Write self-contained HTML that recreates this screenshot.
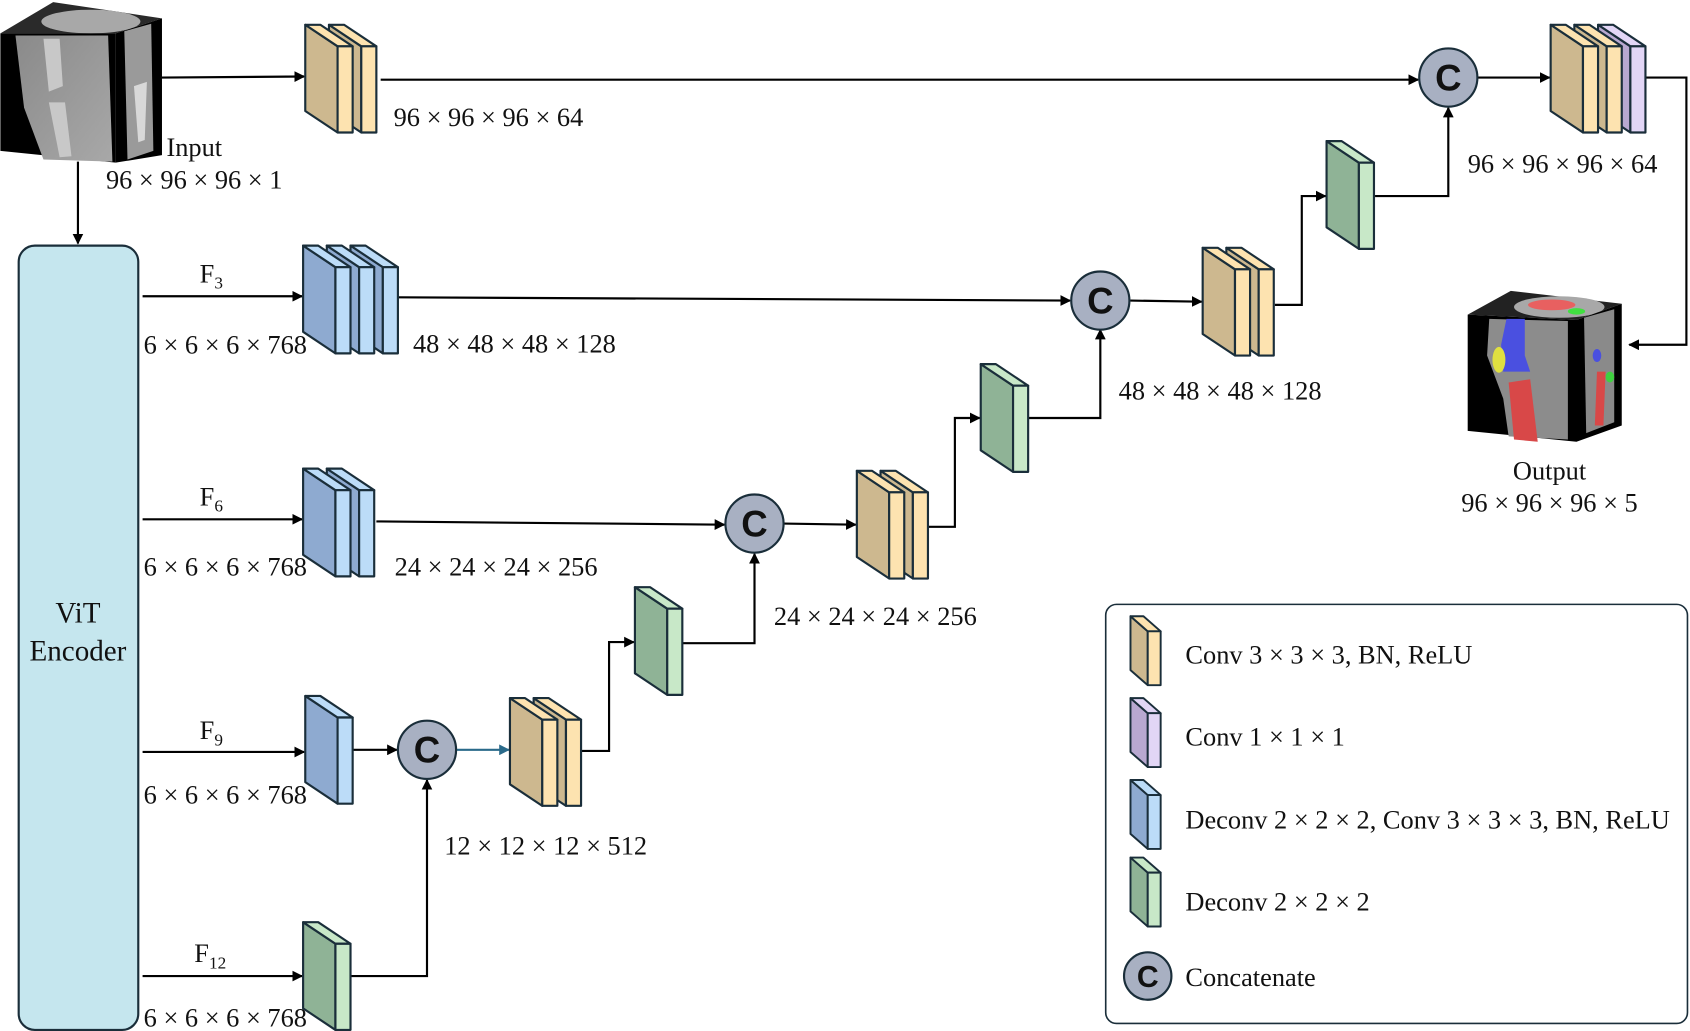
<!DOCTYPE html>
<html><head><meta charset="utf-8"><style>
html,body{margin:0;padding:0;background:#fff;}
svg{display:block;}
text{font-family:"Liberation Serif","DejaVu Serif",serif;fill:#111;}
</style></head><body>
<svg width="1690" height="1031" viewBox="0 0 1568 957" xmlns="http://www.w3.org/2000/svg">
<defs>
<marker id="ar" markerWidth="10" markerHeight="10" refX="9" refY="5" orient="auto" markerUnits="userSpaceOnUse">
<path d="M0,0 L10,5 L0,10 z" fill="#000"/></marker>
<marker id="arb" markerWidth="10" markerHeight="10" refX="9" refY="5" orient="auto" markerUnits="userSpaceOnUse">
<path d="M0,0 L10,5 L0,10 z" fill="#2a6a8a"/></marker>
<linearGradient id="ct" x1="0" y1="0" x2="1" y2="1"><stop offset="0" stop-color="#8a8a8a"/><stop offset="1" stop-color="#a8a8a8"/></linearGradient>
<g id="T" stroke="#1a2e3a" stroke-width="2" stroke-linejoin="round"><polygon points="0,0 30,20 30,100 0,80" fill="#cdb88f"/><polygon points="0,0 14,0 44,20 30,20" fill="#fde3b0"/><rect x="30" y="20" width="14" height="80" fill="#fde3b0"/></g>
<g id="B" stroke="#1a2e3a" stroke-width="2" stroke-linejoin="round"><polygon points="0,0 30,20 30,100 0,80" fill="#8eaad0"/><polygon points="0,0 14,0 44,20 30,20" fill="#bcdcf8"/><rect x="30" y="20" width="14" height="80" fill="#bcdcf8"/></g>
<g id="G" stroke="#1a2e3a" stroke-width="2" stroke-linejoin="round"><polygon points="0,0 30,20 30,100 0,80" fill="#8fb396"/><polygon points="0,0 14,0 44,20 30,20" fill="#c8e8c8"/><rect x="30" y="20" width="14" height="80" fill="#c8e8c8"/></g>
<g id="P" stroke="#1a2e3a" stroke-width="2" stroke-linejoin="round"><polygon points="0,0 30,20 30,100 0,80" fill="#b8a8d0"/><polygon points="0,0 14,0 44,20 30,20" fill="#e2d6f6"/><rect x="30" y="20" width="14" height="80" fill="#e2d6f6"/></g>
<g id="lT" stroke="#1a2e3a" stroke-width="1.8" stroke-linejoin="round"><polygon points="0,0 16,14 16,64 0,50" fill="#cdb88f"/><polygon points="0,0 12,0 28,14 16,14" fill="#fde3b0"/><rect x="16" y="14" width="12" height="50" fill="#fde3b0"/></g>
<g id="lP" stroke="#1a2e3a" stroke-width="1.8" stroke-linejoin="round"><polygon points="0,0 16,14 16,64 0,50" fill="#b8a8d0"/><polygon points="0,0 12,0 28,14 16,14" fill="#e2d6f6"/><rect x="16" y="14" width="12" height="50" fill="#e2d6f6"/></g>
<g id="lB" stroke="#1a2e3a" stroke-width="1.8" stroke-linejoin="round"><polygon points="0,0 16,14 16,64 0,50" fill="#8eaad0"/><polygon points="0,0 12,0 28,14 16,14" fill="#bcdcf8"/><rect x="16" y="14" width="12" height="50" fill="#bcdcf8"/></g>
<g id="lG" stroke="#1a2e3a" stroke-width="1.8" stroke-linejoin="round"><polygon points="0,0 16,14 16,64 0,50" fill="#8fb396"/><polygon points="0,0 12,0 28,14 16,14" fill="#c8e8c8"/><rect x="16" y="14" width="12" height="50" fill="#c8e8c8"/></g>
</defs>

<!-- Input cube -->
<polygon points="0,31 49,2 150,17 107,31" fill="#2a2a2a"/>
<ellipse cx="84" cy="20" rx="46" ry="11" fill="#a8a8a8"/>
<polygon points="0,31 107,31 107,151 0,140" fill="#000"/>
<polygon points="14,33 100,33 104,150 40,148 22,100" fill="url(#ct)"/>
<path d="M40,36 L55,36 L58,80 L45,85 Z M45,95 L60,95 L66,145 L55,146 Z" fill="#c8c8c8"/>
<polygon points="107,31 150,17 150,144 107,151" fill="#000"/>
<polygon points="115,29 140,22 142,140 118,148" fill="#9a9a9a"/>
<path d="M124,80 L136,76 L134,130 L128,132 Z" fill="#d8d8d8"/>

<!-- Output cube -->
<polygon points="1362,292 1402,270 1505,282 1463,297" fill="#222"/>
<ellipse cx="1447" cy="285" rx="42" ry="10" fill="#a8a8a8"/>
<ellipse cx="1440" cy="283" rx="22" ry="5" fill="#e86060"/>
<ellipse cx="1463" cy="289" rx="8" ry="3" fill="#40e040"/>
<polygon points="1362,292 1463,297 1463,410 1362,400" fill="#000"/>
<polygon points="1382,296 1455,298 1455,408 1400,405 1395,370 1380,330" fill="#8c8c8c"/>
<path d="M1398,296 L1415,296 L1415,330 L1420,345 L1395,345 L1393,320 Z" fill="#4a50e0"/>
<ellipse cx="1391" cy="334" rx="6" ry="12" fill="#e0e040"/>
<path d="M1400,355 L1420,352 L1427,410 L1405,408 Z" fill="#d84848"/>
<polygon points="1463,297 1505,282 1505,395 1463,410" fill="#000"/>
<polygon points="1470,295 1498,287 1498,392 1472,402" fill="#8a8a8a"/>
<ellipse cx="1482" cy="330" rx="4" ry="6" fill="#4a50e0"/>
<ellipse cx="1494" cy="350" rx="4" ry="5" fill="#40d040"/>
<path d="M1482,345 L1490,345 L1488,395 L1480,395 Z" fill="#d84848"/>

<!-- ViT encoder -->
<rect x="17" y="228" width="111" height="728" rx="15" fill="#c5e6ee" stroke="#1a2e3a" stroke-width="2"/>
<text x="72" y="578" font-size="27" text-anchor="middle">ViT</text>
<text x="72" y="613" font-size="27" text-anchor="middle">Encoder</text>

<!-- Connectors -->
<g stroke="#000" stroke-width="2" fill="none">
<line x1="150" y1="72" x2="282" y2="71" marker-end="url(#ar)"/>
<line x1="353" y1="74" x2="1316" y2="74" marker-end="url(#ar)"/>
<line x1="1371" y1="72" x2="1438" y2="72" marker-end="url(#ar)"/>
<polyline points="1525,72 1565,72 1565,320 1512,320" marker-end="url(#ar)"/>
<line x1="72" y1="150" x2="72" y2="226" marker-end="url(#ar)"/>
<line x1="132" y1="275" x2="280" y2="275" marker-end="url(#ar)"/>
<line x1="132" y1="482" x2="280" y2="482" marker-end="url(#ar)"/>
<line x1="132" y1="698" x2="282" y2="698" marker-end="url(#ar)"/>
<line x1="132" y1="906" x2="280" y2="906" marker-end="url(#ar)"/>
<line x1="369" y1="276" x2="993" y2="279" marker-end="url(#ar)"/>
<line x1="1049" y1="279" x2="1115" y2="280" marker-end="url(#ar)"/>
<polyline points="1183,283 1208,283 1208,182 1230,182" marker-end="url(#ar)"/>
<polyline points="1276,182 1344,182 1344,100" marker-end="url(#ar)"/>
<line x1="349" y1="484" x2="672" y2="487" marker-end="url(#ar)"/>
<line x1="727" y1="486" x2="794" y2="487" marker-end="url(#ar)"/>
<polyline points="860,489 886,489 886,388 909,388" marker-end="url(#ar)"/>
<polyline points="954,388 1021,388 1021,306" marker-end="url(#ar)"/>
<line x1="327" y1="696" x2="368" y2="696" marker-end="url(#ar)"/>
<polyline points="325,906 396,906 396,724" marker-end="url(#ar)"/>
<polyline points="539,697 565,697 565,596 588,596" marker-end="url(#ar)"/>
<polyline points="633,597 700,597 700,514" marker-end="url(#ar)"/>
</g>
<line x1="423" y1="696" x2="472" y2="696" stroke="#2a6a8a" stroke-width="2" marker-end="url(#arb)"/>

<!-- Blocks (drawn back-to-front: rightmost first) -->
<use href="#T" x="305" y="23"/><use href="#T" x="283" y="23"/>
<use href="#P" x="1483" y="23"/><use href="#T" x="1461" y="23"/><use href="#T" x="1439" y="23"/>
<use href="#B" x="325" y="228"/><use href="#B" x="303" y="228"/><use href="#B" x="281" y="228"/>
<use href="#B" x="303" y="435"/><use href="#B" x="281" y="435"/>
<use href="#B" x="283" y="646"/>
<use href="#G" x="281" y="856"/>
<use href="#T" x="495" y="648"/><use href="#T" x="473" y="648"/>
<use href="#G" x="589" y="545"/>
<use href="#T" x="817" y="437"/><use href="#T" x="795" y="437"/>
<use href="#G" x="910" y="338"/>
<use href="#T" x="1138" y="230"/><use href="#T" x="1116" y="230"/>
<use href="#G" x="1231" y="131"/>

<!-- Legend -->
<rect x="1026" y="561" width="540" height="389" rx="10" fill="#fff" stroke="#1a2e3a" stroke-width="1.5"/>
<use href="#lT" x="1049" y="572"/>
<use href="#lP" x="1049" y="648"/>
<use href="#lB" x="1049" y="724"/>
<use href="#lG" x="1049" y="796"/>

<!-- Concatenate circles -->
<g stroke="#1a2e3a" stroke-width="2" fill="#a8b0c2">
<circle cx="1344" cy="72" r="27"/><circle cx="1021" cy="279" r="27"/>
<circle cx="700" cy="486" r="27"/><circle cx="396" cy="696" r="27"/>
<circle cx="1065" cy="906" r="22"/>
</g>
<g font-weight="bold" text-anchor="middle">
<text x="1344" y="84" font-size="34" style="font-family:'Liberation Sans',sans-serif">C</text>
<text x="1021" y="291" font-size="34" style="font-family:'Liberation Sans',sans-serif">C</text>
<text x="700" y="498" font-size="34" style="font-family:'Liberation Sans',sans-serif">C</text>
<text x="396" y="708" font-size="34" style="font-family:'Liberation Sans',sans-serif">C</text>
<text x="1065" y="916" font-size="28" style="font-family:'Liberation Sans',sans-serif">C</text>
</g>

<!-- Labels -->
<g font-size="24.5">
<text x="365" y="117">96 × 96 × 96 × 64</text>
<text x="180" y="145" text-anchor="middle">Input</text>
<text x="98" y="175">96 × 96 × 96 × 1</text>
<text x="185" y="262">F<tspan font-size="16" dy="6">3</tspan></text>
<text x="185" y="469">F<tspan font-size="16" dy="6">6</tspan></text>
<text x="185" y="686">F<tspan font-size="16" dy="6">9</tspan></text>
<text x="180" y="893">F<tspan font-size="16" dy="6">12</tspan></text>
<text x="133" y="328">6 × 6 × 6 × 768</text>
<text x="133" y="534">6 × 6 × 6 × 768</text>
<text x="133" y="746">6 × 6 × 6 × 768</text>
<text x="133" y="953">6 × 6 × 6 × 768</text>
<text x="383" y="327">48 × 48 × 48 × 128</text>
<text x="366" y="534">24 × 24 × 24 × 256</text>
<text x="412" y="793">12 × 12 × 12 × 512</text>
<text x="718" y="580">24 × 24 × 24 × 256</text>
<text x="1038" y="371">48 × 48 × 48 × 128</text>
<text x="1362" y="160">96 × 96 × 96 × 64</text>
<text x="1438" y="445" text-anchor="middle">Output</text>
<text x="1356" y="475">96 × 96 × 96 × 5</text>
<text x="1100" y="616">Conv 3 × 3 × 3, BN, ReLU</text>
<text x="1100" y="692">Conv 1 × 1 × 1</text>
<text x="1100" y="769">Deconv 2 × 2 × 2, Conv 3 × 3 × 3, BN, ReLU</text>
<text x="1100" y="845">Deconv 2 × 2 × 2</text>
<text x="1100" y="915">Concatenate</text>
</g>
</svg>
</body></html>
